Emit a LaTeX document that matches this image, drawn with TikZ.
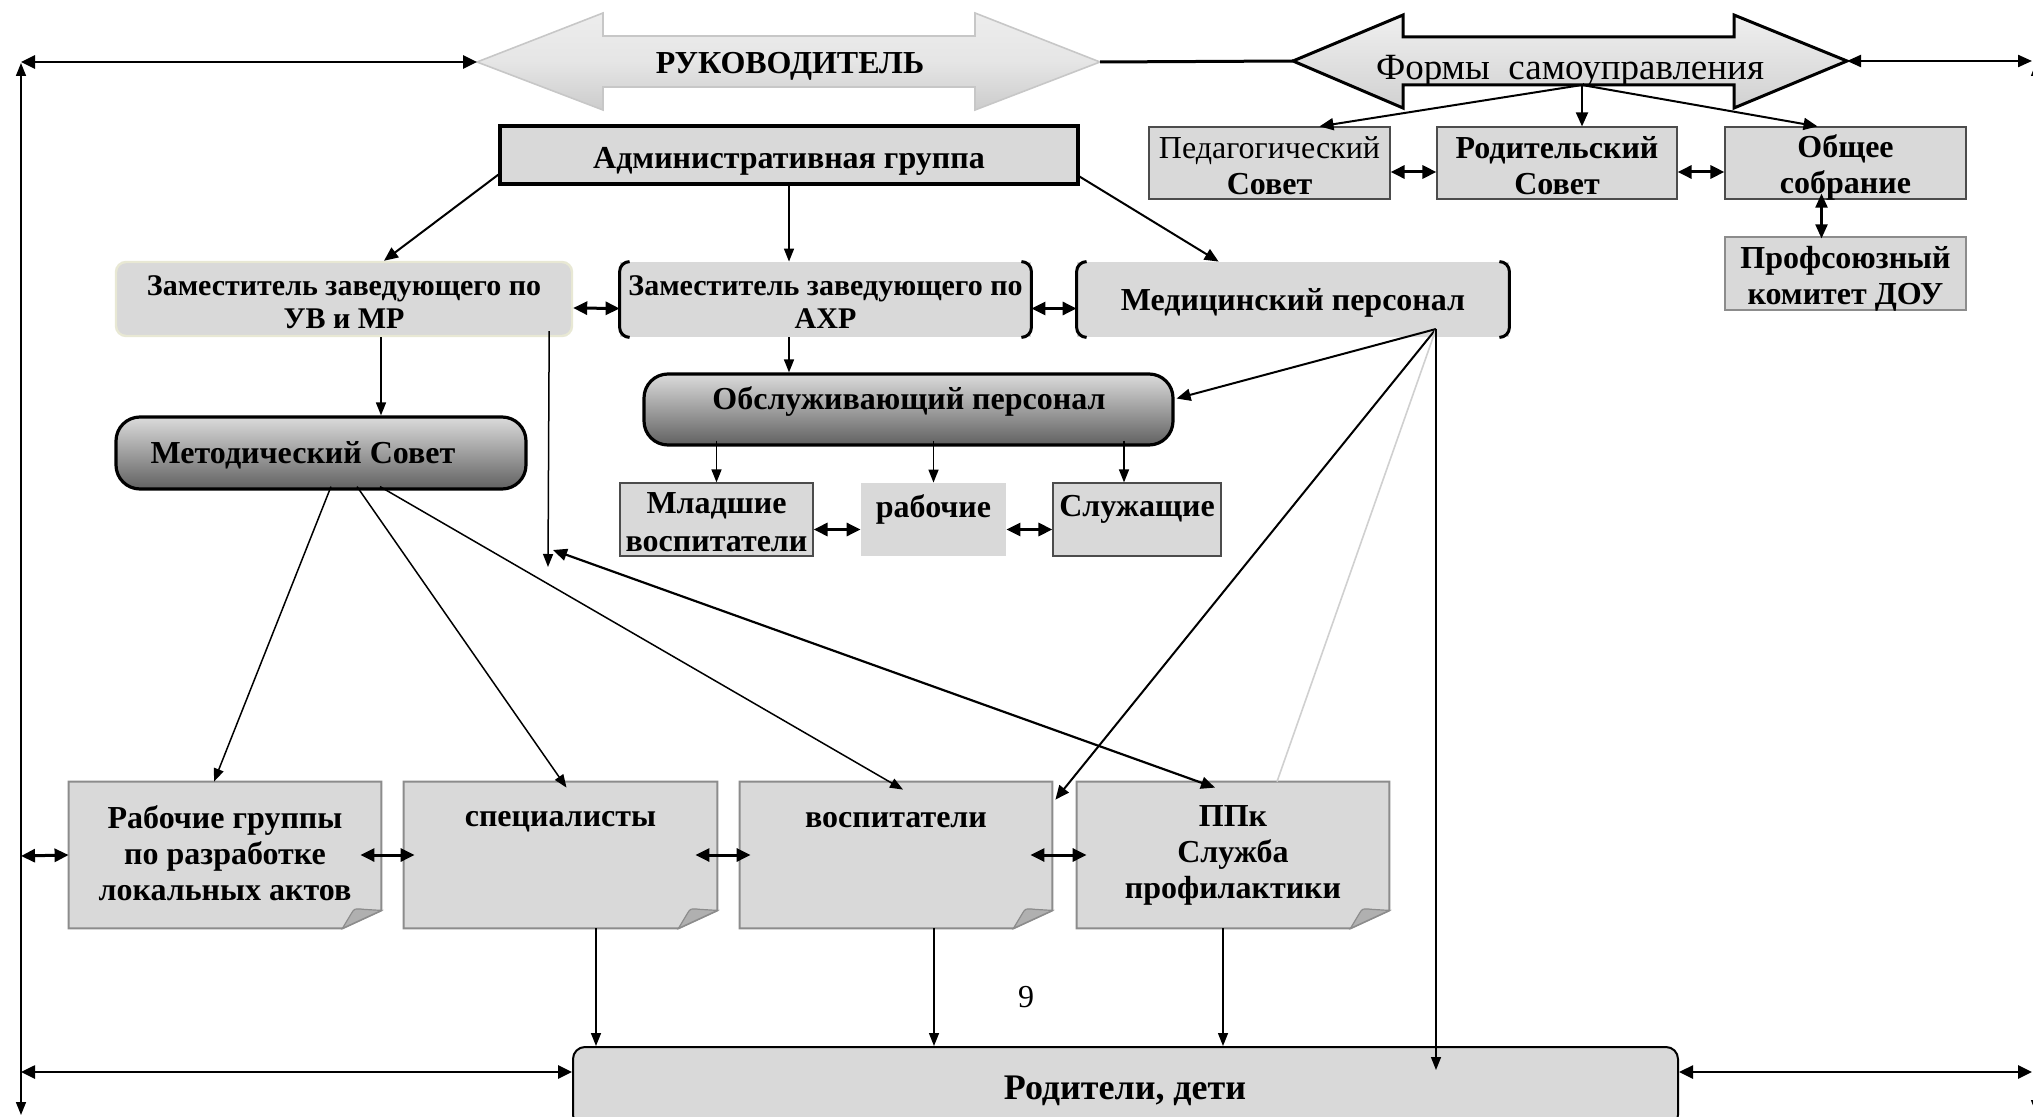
\documentclass[tikz,border=0pt]{standalone}
\usepackage{fontspec}
\setmainfont{Liberation Serif}
\usetikzlibrary{arrows.meta,calc}

\definecolor{boxgray}{HTML}{D9D9D9}
\definecolor{curlline}{HTML}{8C8C8C}
\definecolor{curlfold}{HTML}{B0B0B0}
\definecolor{zuvline}{HTML}{E8E8D4}
\definecolor{lgline}{HTML}{D0D0D0}

\tikzset{
  wh/.style 2 args={minimum width=#1*0.5pt, minimum height=#2*0.5pt},
  fb/.style={font=\bfseries\fontsize{16}{18}\selectfont},
  fbs/.style={font=\bfseries\fontsize{15}{16.5}\selectfont},
  fr/.style={font=\fontsize{16}{18}\selectfont},
  gbox/.style={rectangle, fill=boxgray, draw=black!70, line width=0.6pt, inner sep=0pt},
  fillbox/.style={rectangle, fill=boxgray, inner sep=0pt},
  pill/.style={rectangle, rounded corners=12pt, draw=black, line width=1.6pt, top color=black!14, bottom color=black!62, inner sep=0pt},
  curlnode/.style={rectangle, inner sep=0pt},
  txt/.style={inner sep=0pt, align=center, fb},
  bracket/.style={line width=1.5pt, rounded corners=5pt},
  thinar/.style={line width=0.75pt, -{Triangle[length=6.5pt,width=5pt]}},
  midar/.style={line width=1pt, -{Triangle[length=7pt,width=6pt]}},
  dbl/.style={line width=1.5pt, {Triangle[length=7pt,width=6.5pt]}-{Triangle[length=7pt,width=6.5pt]}},
  dblmid/.style={line width=1.1pt, {Triangle[length=7pt,width=6pt]}-{Triangle[length=7pt,width=6pt]}},
  dblthin/.style={line width=0.75pt, {Triangle[length=6.5pt,width=5pt]}-{Triangle[length=6.5pt,width=5pt]}},
}

\newcommand\mycurl[1]{%
  \path[draw=curlline, fill=boxgray, line width=1pt]
    (#1.north west) -- (#1.north east) -- ($(#1.south east)+(0,-18)$)
    -- ($(#1.south east)+(-39,0)$) -- (#1.south west) -- cycle;
  \path[draw=curlline, fill=curlfold, line width=0.6pt]
    ($(#1.south east)+(-39,0)$) -- ($(#1.south east)+(-30,-15)$)
    .. controls ($(#1.south east)+(-27,-20)$) .. ($(#1.south east)+(-17,-19)$)
    -- ($(#1.south east)+(0,-18)$) -- cycle;
}

\begin{document}
\begin{tikzpicture}[x=0.5pt,y=-0.5pt]
\useasboundingbox (0,0) rectangle (2033,1117);
\fill[white] (0,0) rectangle (2033,1117);

% ---------- top block arrows
\coordinate (rukL) at (477,62);
\coordinate (rukR) at (1100,62);
\path[draw=black!22, line width=0.8pt, top color=black!7, bottom color=black!20, middle color=black!10]
  (rukL) -- (603,13) -- (603,36) -- (975,36) -- (975,13) -- (rukR)
  -- (975,110) -- (975,87) -- (603,87) -- (603,110) -- cycle;
\node[txt] (ruk) at (790,66) {РУКОВОДИТЕЛЬ};

\coordinate (forL) at (1293,61);
\coordinate (forR) at (1847,61);
\path[top color=black!6, bottom color=black!18]
  (forL) -- (1403,15) -- (1403,37) -- (1734,37) -- (1734,15) -- (forR)
  -- (1734,108) -- (1734,85) -- (1403,85) -- (1403,108) -- cycle;
\begin{scope}
  \clip (forL) -- (1403,15) -- (1403,37) -- (1734,37) -- (1734,15) -- (forR)
  -- (1734,108) -- (1734,85) -- (1403,85) -- (1403,108) -- cycle;
  \node[inner sep=0pt, anchor=base, font=\fontsize{18.5}{20}\selectfont] (formy) at (1570,80) {Формы\ \ самоуправления};
\end{scope}
\draw[line width=1.5pt, line join=miter]
  (forL) -- (1403,15) -- (1403,37) -- (1734,37) -- (1734,15) -- (forR)
  -- (1734,108) -- (1734,85) -- (1403,85) -- (1403,108) -- cycle;

% ---------- boxes
\node[gbox, draw=black, line width=1.6pt, wh={578}{58}] (adm) at (789,155) {};
\node[txt] (admt) at ($(adm.center)+(0,6)$) {Административная группа};

\node[gbox, wh={241}{72}] (ped) at (1269.5,163) {};
\node[txt] (pedt) at ($(ped.center)+(0,3)$) {{\mdseries Педагогический}\\Совет};
\node[gbox, wh={240}{72}] (rod) at (1557,163) {};
\node[txt] (rodt) at ($(rod.center)+(0,3)$) {Родительский\\Совет};
\node[gbox, wh={241}{72}] (obsh) at (1845.5,163) {};
\node[txt] (obsht) at ($(obsh.center)+(0,4)$) {Общее\\собрание};
\node[gbox, draw=black!45, wh={241}{73}] (prof) at (1845.5,273.5) {};
\node[txt] (proft) at ($(prof.center)+(0,5)$) {Профсоюзный\\комитет ДОУ};

\node[rectangle, rounded corners=5pt, fill=boxgray, draw=zuvline, line width=1.2pt, inner sep=0pt, wh={456}{74}] (zuv) at (344,299) {};
\node[txt, fbs] (zuvt) at ($(zuv.center)+(0,3)$) {Заместитель заведующего по\\УВ и МР};

\node[fillbox, wh={411}{75}] (zahr) at (825.5,299.5) {};
\node[txt, fbs] (zahrt) at ($(zahr.center)+(0,3)$) {Заместитель заведующего по\\АХР};
\draw[bracket] ($(zahr.north west)+(10,0)$) -- (zahr.north west) -- (zahr.south west) -- ($(zahr.south west)+(10,0)$);
\draw[bracket] ($(zahr.north east)+(-10,0)$) -- (zahr.north east) -- (zahr.south east) -- ($(zahr.south east)+(-10,0)$);

\node[fillbox, wh={432}{75}] (med) at (1293,299.5) {};
\node[txt] (medt) at ($(med.center)+(0,3)$) {Медицинский персонал};
\draw[bracket] ($(med.north west)+(10,0)$) -- (med.north west) -- (med.south west) -- ($(med.south west)+(10,0)$);
\draw[bracket] ($(med.north east)+(-10,0)$) -- (med.north east) -- (med.south east) -- ($(med.south east)+(-10,0)$);

\node[pill, wh={410}{72}] (metod) at (321,453) {};
\node[txt] (metodt) at (303,455) {Методический Совет};

\node[pill, wh={529}{71}] (obsl) at (908.5,409.5) {};
\node[txt] (obslt) at (909,401) {Обслуживающий персонал};

\node[gbox, wh={193}{73}] (mlad) at (716.5,519.5) {};
\node[txt, font=\bfseries\fontsize{16}{19}\selectfont] (mladt) at ($(mlad.center)+(0,3)$) {Младшие\\воспитатели};
\node[fillbox, wh={145}{73}] (rab) at (933.5,519.5) {};
\node[txt] (rabt) at (933.5,509) {рабочие};
\node[gbox, wh={168}{73}] (sluzh) at (1137,519.5) {};
\node[txt] (sluzht) at (1137,509) {Служащие};

% ---------- page-curl boxes
\node[curlnode, wh={312}{146}] (rgr) at (225,855) {};
\mycurl{rgr}
\node[txt] (rgrt) at (225,853) {Рабочие группы\\по разработке\\локальных актов};
\node[curlnode, wh={313}{146}] (spec) at (560.5,855) {};
\mycurl{spec}
\node[txt] (spect) at (560.5,822) {специалисты};
\node[curlnode, wh={312}{146}] (vosp) at (896,855) {};
\mycurl{vosp}
\node[txt] (vospt) at (896,820) {воспитатели};
\node[curlnode, wh={312}{146}] (ppk) at (1233,855) {};
\mycurl{ppk}
\node[txt] (ppkt) at (1233,855) {ППк\\Служба\\профилактики};

\node[rectangle, rounded corners=6pt, fill=boxgray, draw=black, line width=1pt, inner sep=0pt, wh={1105}{80}] (rodd) at (1125.5,1087) {};
\node[txt, font=\bfseries\fontsize{18}{20}\selectfont] (roddt) at (1125,1091) {Родители, дети};

\node[inner sep=0pt, fr] (pg) at (1026,997) {9};

% ---------- coordinates
\coordinate (tl) at (21,62);
\coordinate (tr) at (2032,61);
\coordinate (lvt) at (21,63);
\coordinate (lvb) at (21,1115);
\coordinate (rvt) at (2036,63);
\coordinate (rvb) at (2036,1113);
\coordinate (fs) at (1582,85);
\coordinate (j1) at (548,567);
\coordinate (j2) at (553,550);
\coordinate (mo) at (1436,329);
\coordinate (md) at (1436,1070);
\coordinate (lr) at (21,856);
\coordinate (lrd) at (21,1072);
\coordinate (rrd) at (2032,1072);

% ---------- connectors
\draw[dbl, line width=1.3pt] (tl) -- (rukL);
\draw[line width=1.5pt] (rukR) -- (forL);
\draw[dblmid] (forR) -- (tr);
\draw[dblthin] (lvt) -- (lvb);
\draw[dblthin] (rvt) -- (rvb);

\draw[midar] (fs) -- ($(ped.north)+(50,0)$);
\draw[midar] (fs) -- (fs |- rod.north);
\draw[midar] (fs) -- ($(obsh.north)+(-28,0)$);
\draw[dbl] ($(ped.east)+(0,9)$) -- ($(rod.west)+(0,9)$);
\draw[dbl] ($(rod.east)+(0,9)$) -- ($(obsh.west)+(0,9)$);
\draw[dblmid] ($(obsh.south)+(-24,-6)$) -- ($(prof.north)+(-24,2)$);

\draw[midar] ($(adm.south west)+(0,-11)$) -- ($(zuv.north)+(40,0)$);
\draw[thinar] (adm.south) -- (adm.south |- zahr.north);
\draw[midar] ($(adm.south east)+(0,-9)$) -- ($(med.north west)+(142,0)$);
\draw[dbl] ($(zuv.east)+(0,9)$) -- ($(zahr.west)+(0,9)$);
\draw[dbl] ($(zahr.east)+(0,9)$) -- ($(med.west)+(0,9)$);

\draw[thinar] ($(zuv.south)+(37,0)$) -- ($(metod.north)+(60,0)$);
\draw[thinar] ($(zuv.south east)+(-24,-6)$) -- (j1);
\draw[dblmid] (j2) -- ($(ppk.north)+(-18,6)$);
\draw[thinar] ($(zahr.south)+(-36.5,0)$) -- ($(obsl.north)+(-119.5,0)$);

\draw[midar] (mo) -- ($(obsl.east)+(2,-11)$);
\draw[midar] (mo) -- ($(vosp.north east)+(3,18)$);
\draw[lgline, line width=0.8pt] (mo) -- ($(ppk.north)+(44,0)$);
\draw[thinar] (mo) -- (md);

\draw[thinar] ($(obsl.south -| mlad.north)+(0,-6)$) -- (mlad.north);
\draw[thinar] ($(obsl.south -| rab.north)+(0,-6)$) -- (rab.north);
\draw[thinar] ($(obsl.south -| sluzh.north)+(-13,-6)$) -- ($(sluzh.north)+(-13,0)$);
\draw[dbl] ($(mlad.east)+(0,10)$) -- ($(rab.west)+(0,10)$);
\draw[dbl] ($(rab.east)+(0,10)$) -- ($(sluzh.west)+(0,10)$);

\draw[thinar] ($(metod.south)+(10,-4)$) -- ($(rgr.north)+(-11,0)$);
\draw[thinar] ($(metod.south)+(36,-4)$) -- ($(spec.north)+(6,6)$);
\draw[thinar] ($(metod.south)+(59,-4)$) -- ($(vosp.north)+(7,8)$);

\draw[dbl] (lr) -- (rgr.west);
\draw[dbl] ($(rgr.east)+(-21,0)$) -- ($(spec.west)+(11,0)$);
\draw[dbl] ($(spec.east)+(-22,0)$) -- ($(vosp.west)+(11,0)$);
\draw[dbl] ($(vosp.east)+(-22,0)$) -- ($(ppk.west)+(10,0)$);

\coordinate (s1) at ($(spec.south)+(35.5,0)$);
\coordinate (s2) at ($(vosp.south)+(38,0)$);
\coordinate (s3) at ($(ppk.south)+(-10,0)$);
\draw[thinar] (s1) -- (s1 |- rodd.north);
\draw[thinar] (s2) -- (s2 |- rodd.north);
\draw[thinar] (s3) -- (s3 |- rodd.north);

\draw[dbl, line width=1.3pt] (lrd) -- ($(rodd.west)+(0,-15)$);
\draw[dbl, line width=1.3pt] ($(rodd.east)+(0,-15)$) -- (rrd);
\end{tikzpicture}
\end{document}
